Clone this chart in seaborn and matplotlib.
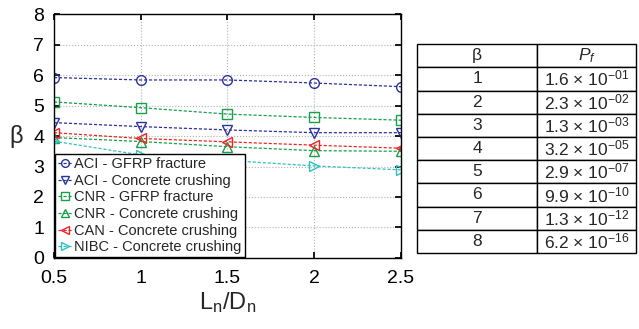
import matplotlib
matplotlib.use("Agg")
import matplotlib.pyplot as plt
import seaborn as sns
import pandas as pd

sns.set_theme(style="white")
plt.rcParams['font.family'] = ['Liberation Sans', 'DejaVu Sans']
plt.rcParams['mathtext.fontset'] = 'custom'
plt.rcParams['mathtext.rm'] = 'Liberation Sans'
plt.rcParams['mathtext.it'] = 'Liberation Sans:italic'

x_vals = [0.5, 1.0, 1.5, 2.0, 2.5]
aci_gfrp = [5.92, 5.84, 5.84, 5.74, 5.62]
aci_conc = [4.44, 4.31, 4.20, 4.11, 4.11]
cnr_gfrp = [5.12, 4.93, 4.72, 4.61, 4.52]
cnr_conc = [3.95, 3.82, 3.65, 3.52, 3.50]
can_conc = [4.11, 3.92, 3.81, 3.70, 3.60]
nibc_conc = [3.83, 3.38, 3.20, 3.02, 2.89]

labels = ["ACI - GFRP fracture", "ACI - Concrete crushing", "CNR - GFRP fracture",
          "CNR - Concrete crushing", "CAN - Concrete crushing", "NIBC - Concrete crushing"]
series = [aci_gfrp, aci_conc, cnr_gfrp, cnr_conc, can_conc, nibc_conc]
colors = ["#2b339c", "#2b339c", "#16a04a", "#16a04a", "#ee2424", "#30c0c0"]
markers = ["o", "v", "s", "^", "<", ">"]

beta_vals = ["1", "2", "3", "4", "5", "6", "7", "8"]
pf_mant = ["1.6", "2.3", "1.3", "3.2", "2.9", "9.9", "1.3", "6.2"]
pf_exp = ["-01", "-02", "-03", "-05", "-07", "-10", "-12", "-16"]

fig = plt.figure(figsize=(6.39, 3.29), dpi=100)
ax = fig.add_axes([0.0845, 0.216, 0.543, 0.741])

for lab, vals, c, m in zip(labels, series, colors, markers):
    df = pd.DataFrame({"x": x_vals, "y": vals})
    sns.lineplot(data=df, x="x", y="y", ax=ax, color=c, marker=m, linestyle=(0, (2.5, 1.5)),
                 linewidth=0.9, markersize=7, markerfacecolor="none", markeredgecolor=c,
                 markeredgewidth=1.0, label=lab)

ax.set_xlim(0.5, 2.5)
ax.set_ylim(0, 8)
ax.set_xticks([0.5, 1, 1.5, 2, 2.5])
ax.set_xticklabels(["0.5", "1", "1.5", "2", "2.5"])
ax.set_yticks(range(0, 9))
ax.grid(True, color="#b0b0b0", linestyle=":", linewidth=0.8)
ax.tick_params(direction="in", length=4, labelsize=14, colors="black", top=True, right=True,
               bottom=True, left=True)
ax.tick_params(axis="x", pad=9)
ax.tick_params(axis="y", pad=7)
for s in ax.spines.values():
    s.set_color("black")
    s.set_linewidth(1.0)
ax.set_xlabel(r"L$_\mathregular{n}$/D$_\mathregular{n}$", fontsize=17, labelpad=2)
ax.set_ylabel("β", fontsize=17, rotation=0, labelpad=12, va="center")

leg = ax.legend(loc="lower left", borderaxespad=0.05, fontsize=10.5, handlelength=1.0,
                handletextpad=0.15, labelspacing=0.18, borderpad=0.2, fancybox=False,
                frameon=True, markerscale=0.8)
leg.get_frame().set_edgecolor("black")
leg.get_frame().set_linewidth(1.0)
leg.get_frame().set_alpha(1)

tax = fig.add_axes([0.6526, 0.231, 0.3424, 0.635])
tax.axis("off")
cell_text = [[b, r"%s $\times$ 10$^{\mathregular{%s}}$" % (m, e)] for b, m, e in zip(beta_vals, pf_mant, pf_exp)]
tbl = tax.table(cellText=cell_text, colLabels=["β", r"$P_f$"], loc="center",
                cellLoc="center", bbox=[0, 0, 1, 1], colWidths=[0.55, 0.45])
tbl.auto_set_font_size(False)
tbl.set_fontsize(12.5)
for (r, c), cell in tbl.get_celld().items():
    cell.set_edgecolor("black")
    cell.set_linewidth(1.0)

fig.savefig("out.png", dpi=100)
